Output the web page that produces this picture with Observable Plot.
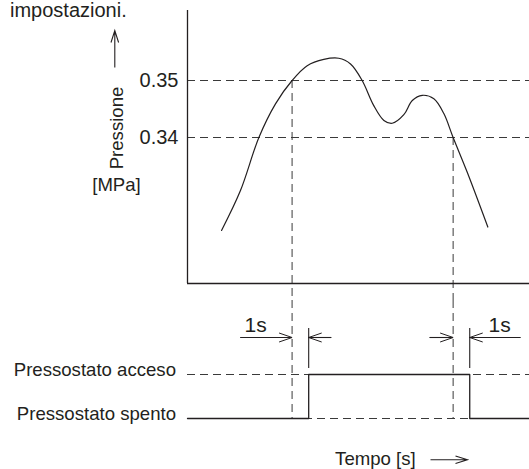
<!DOCTYPE html>
<html><head><meta charset="utf-8">
<script src="https://cdn.jsdelivr.net/npm/d3@7"></script>
<script src="https://cdn.jsdelivr.net/npm/@observablehq/plot@0.6"></script>
<style>
body{margin:0;background:#fff;font-family:"Liberation Sans",Arial,sans-serif;color:#231f20}
#wrap{position:relative;width:529px;height:469px;overflow:hidden;background:#fff}
#note{position:absolute;left:10px;top:0;font-size:20px;line-height:20px;white-space:nowrap}
#top{position:absolute;left:0;top:0}
#bottom{position:absolute;left:0;top:300px}
svg{overflow:visible}
</style></head><body>
<div id="wrap"><div id="top"></div><div id="bottom"></div><div id="note">impostazioni.</div></div>
<script>
// ---- data ----
const timeDomain = [0, 20.6];                 // seconds
const pressureDomain = [0.31439, 0.36228];    // MPa
const curveTime = [2.05, 3.19, 4.30, 5.30, 6.30, 7.21, 8.21, 9.11, 9.82, 10.52, 11.22, 11.83, 12.33, 13.03, 13.54, 14.14, 14.84, 15.44, 16.0, 16.85, 18.09];
const curvePressure = [0.3237, 0.3307, 0.3400, 0.3459, 0.3500, 0.3526, 0.3537, 0.3539, 0.3529, 0.3500, 0.3456, 0.3430, 0.3425, 0.3440, 0.3465, 0.3474, 0.3468, 0.3442, 0.3400, 0.3339, 0.3243];
const thresholdPressures = [0.35, 0.34];      // tick values / set points
const thresholdTimes = [6.3, 16.0];           // curve crosses the set points
const switchTimes = [7.3, 17.0];              // switch reacts 1 s later
const signalTime = [0, 7.3, 17.0, 20.6];
const signalState = [0, 1, 0, 0];
const states = [0, 1];
const stateLabels = ["Pressostato spento", "Pressostato acceso"];
const dimFrom = [3.2, 8.7, 14.6, 20.1];
const dimTo = [6.3, 7.3, 16.0, 17.0];
const delayLabelTimes = [4.1, 18.8];
const delayLabel = "1s";
const yLabel = "Pressione";
const yUnit = "[MPa]";
const xLabel = "Tempo [s]";

// ---- build ----
const ink = "#231f20";
const dashCol = "#3a3a3a";
const dash = "8,5";
const font = "Liberation Sans, Arial, Helvetica, sans-serif";
const curve = curveTime.map((t, i) => ({t, p: curvePressure[i]}));
const crossings = thresholdTimes.map((t, i) => ({t, p: thresholdPressures[i]}));
const signal = signalTime.map((t, i) => ({t, s: signalState[i]}));
const dims = dimFrom.map((f, i) => ({from: f, to: dimTo[i]}));
// open arrowhead used on dimension lines
const headSymbol = {draw(ctx) { ctx.moveTo(-13, -4.5); ctx.lineTo(0, 0); ctx.lineTo(-13, 4.5); }};
// long axis-direction arrow (shaft + open head), tip at origin
const axisArrowSymbol = {draw(ctx) {
  ctx.moveTo(-37, 0); ctx.lineTo(0, 0);
  ctx.moveTo(-12, -3.8); ctx.lineTo(0, 0); ctx.lineTo(-12, 3.8);
}};

const topPlot = Plot.plot({
  width: 529, height: 300,
  marginLeft: 187, marginRight: 0, marginTop: 10, marginBottom: 17,
  x: {domain: timeDomain, axis: null},
  y: {domain: pressureDomain, axis: null},
  style: {fontFamily: font, color: ink, background: "transparent"},
  marks: [
    Plot.ruleY(thresholdPressures, {stroke: dashCol, strokeWidth: 1, strokeDasharray: dash}),
    Plot.ruleX(crossings, {x: "t", y1: "p", y2: pressureDomain[0], insetBottom: -17, stroke: dashCol, strokeWidth: 1, strokeDasharray: dash}),
    Plot.ruleX([timeDomain[0]], {stroke: ink, strokeWidth: 1.3}),
    Plot.ruleY([pressureDomain[0]], {stroke: ink, strokeWidth: 1.3}),
    Plot.line(curve, {x: "t", y: "p", curve: "catmull-rom", stroke: ink, strokeWidth: 1.2}),
    Plot.axisY(thresholdPressures, {tickSize: 0, tickPadding: 9, fontSize: 20, tickFormat: d3.format(".2f"), label: null}),
    Plot.text([yLabel], {frameAnchor: "left", textAnchor: "middle", rotate: -90, dx: -70, dy: -19, fontSize: 18.6, fill: ink}),
    Plot.dot([yLabel], {frameAnchor: "left", dx: -72.7, dy: -116.5, symbol: axisArrowSymbol, rotate: -90, stroke: ink, fill: "none", strokeWidth: 1.1}),
    Plot.text([yUnit], {frameAnchor: "left", textAnchor: "middle", dx: -71, dy: 38, fontSize: 18.6, fill: ink})
  ]
});
document.getElementById("top").append(topPlot);

const bottomPlot = Plot.plot({
  width: 529, height: 169,
  marginLeft: 187, marginRight: 0, marginTop: 74, marginBottom: 51,
  x: {domain: timeDomain, axis: null},
  y: {domain: [0, 1], axis: null},
  style: {fontFamily: font, color: ink, background: "transparent"},
  marks: [
    Plot.ruleY(states, {stroke: dashCol, strokeWidth: 1, strokeDasharray: dash}),
    Plot.ruleX(crossings, {x: "t", y1: 1, y2: 0, insetTop: -74, stroke: dashCol, strokeWidth: 1, strokeDasharray: dash}),
    Plot.line(signal, {x: "t", y: "s", curve: "step-after", stroke: ink, strokeWidth: 1.3}),
    Plot.ruleX(switchTimes, {y1: 1, y2: 1, insetTop: -46, insetBottom: 6, stroke: ink, strokeWidth: 1.1}),
    Plot.ruleY(dims, {x1: "from", x2: "to", y: 1, dy: -37, stroke: ink, strokeWidth: 1.1}),
    Plot.dot(dims, {x: "to", y: 1, dy: -37, symbol: headSymbol, rotate: d => d.to > d.from ? 0 : 180, stroke: ink, fill: "none", strokeWidth: 1}),
    Plot.text(delayLabelTimes, {x: d => d, y: 1, text: () => delayLabel, dy: -42.3, lineAnchor: "bottom", fontSize: 21, fill: ink}),
    Plot.axisY(states, {tickSize: 0, tickPadding: 11.5, fontSize: 18.6, tickFormat: d => stateLabels[d], label: null, dy: -4}),
    Plot.text([xLabel], {frameAnchor: "bottom-left", textAnchor: "start", lineAnchor: "bottom", dx: 147.6, dy: 46, fontSize: 18.6, fill: ink}),
    Plot.dot([xLabel], {frameAnchor: "bottom-left", dx: 280, dy: 41.3, symbol: axisArrowSymbol, stroke: ink, fill: "none", strokeWidth: 1.1})
  ]
});
document.getElementById("bottom").append(bottomPlot);
</script>
</body></html>
